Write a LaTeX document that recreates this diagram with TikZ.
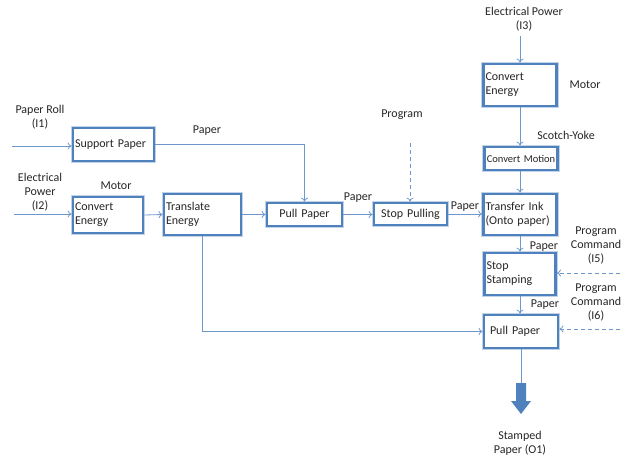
\documentclass[tikz,border=0pt]{standalone}
\usepackage{fontspec}
\setmainfont{Carlito}
\usetikzlibrary{arrows.meta}
\definecolor{bblue}{HTML}{4F81BD}
\definecolor{lblue}{HTML}{6E97CC}
\definecolor{txt}{HTML}{262626}
\begin{document}
\begin{tikzpicture}[x=1pt,y=-1pt,
  font=\fontsize{12}{14}\selectfont, text=txt,
  box/.style={draw=bblue, line width=2.8pt, fill=white, inner sep=2pt, align=left,
    preaction={draw=bblue!35, line width=4.6pt}},
  conn/.style={draw=lblue, line width=0.8pt, -{To[length=4pt,width=7pt]}},
  dconn/.style={conn, dash pattern=on 4pt off 3pt},
  lbl/.style={inner sep=0pt, align=center}]
\useasboundingbox (0,0) rectangle (623,459);
% boxes
\node[box, minimum width=81pt, minimum height=33pt, text width=77pt] (sp) at (113.5,144.5) {Support Paper};
\node[box, minimum width=70pt, minimum height=36pt, text width=66pt] (ce1) at (108,215) {Convert\\Energy};
\node[box, minimum width=77pt, minimum height=41pt, text width=73pt] (te) at (202.5,214.5) {Translate\\Energy};
\node[box, minimum width=75pt, minimum height=23pt, text width=71pt, align=center] (pp1) at (304.5,214.5) {Pull Paper};
\node[box, minimum width=73pt, minimum height=22pt, text width=69pt, align=center] (spu) at (410.5,214) {Stop Pulling};
\node[box, minimum width=73pt, minimum height=42pt, text width=69pt] (ce2) at (520,85) {Convert\\Energy};
\node[box, minimum width=73pt, minimum height=23pt, text width=69pt, align=center, font=\fontsize{10.5}{12}\selectfont] (cm) at (521,158.5) {Convert Motion};
\node[box, minimum width=73pt, minimum height=41pt, text width=69pt] (ti) at (520,214.5) {Transfer Ink\\(Onto paper)};
\node[box, minimum width=71pt, minimum height=42pt, text width=67pt] (ss) at (520,274) {Stop\\Stamping};
\node[box, minimum width=74pt, minimum height=33pt, text width=66pt] (pp2) at (521,331.5) {\hspace*{2pt}Pull Paper};
% labels
\node[lbl] (l3) at (524,19) {Electrical Power\\(I3)};
\node[lbl] (mot2) at (585,85) {Motor};
\node[lbl] (sy) at (566,135) {Scotch-Yoke};
\node[lbl] (prog) at (402,115) {Program};
\node[lbl] (l1) at (40,117) {Paper Roll\\(I1)};
\node[lbl] (l2) at (40,192) {Electrical\\Power\\(I2)};
\node[lbl] (mot1) at (116,186) {Motor};
\node[lbl] (pa1) at (207,131) {Paper};
\node[lbl] (pa2) at (358,198) {Paper};
\node[lbl] (pa3) at (465,207) {Paper};
\node[lbl] (pa4) at (544,247) {Paper};
\node[lbl] (pa5) at (545,305) {Paper};
\node[lbl] (l5) at (596,245) {Program\\Command\\(I5)};
\node[lbl] (l6) at (596,302) {Program\\Command\\(I6)};
\node[lbl] (o1) at (520,443) {Stamped\\Paper (O1)};
% free ends
\coordinate (i3) at (520,36);
\coordinate (i1) at (12,146);
\coordinate (i2) at (14,214);
\coordinate (pr) at (410,143);
\coordinate (i5) at (620,273);
\coordinate (i6) at (620,329);
\coordinate (oa) at (521,383);
% connectors
\draw[conn] (i3) -- (i3 |- ce2.north);
\draw[conn] (ce2.south) -- (ce2.south |- cm.north);
\draw[conn] (ce2.south |- cm.south) -- (ti.north);
\draw[conn] (ti.south) -- (ss.north);
\draw[conn] (ss.south) -- (ss.south |- pp2.north);
\draw[conn] (i1) -- (i1 -| sp.west);
\draw[conn] (i2) -- (i2 -| ce1.west);
\draw[conn] (ce1.east) -- (te.west);
\draw[conn] (te.east) -- (te.east -| pp1.west);
\draw[conn] (pp1.east) -- (pp1.east -| spu.west);
\draw[conn] (spu.east) -- (spu.east -| ti.west);
\draw[conn] (sp.east) -- (pp1.north |- sp.east) -- (pp1.north);
\draw[dconn] (pr) -- (pr |- spu.north);
\draw[dconn] (i5) -- (i5 -| ss.east);
\draw[dconn] (i6) -- (i6 -| pp2.east);
\draw[conn] (te.south) -- (te.south |- pp2.west) -- (pp2.west);
\draw[draw=lblue, line width=0.8pt] (pp2.south) -- (oa);
\fill[bblue] (516,383) -- (526,383) -- (526,401) -- (531,401) -- (521,414) -- (511,401) -- (516,401) -- cycle;
\end{tikzpicture}
\end{document}
